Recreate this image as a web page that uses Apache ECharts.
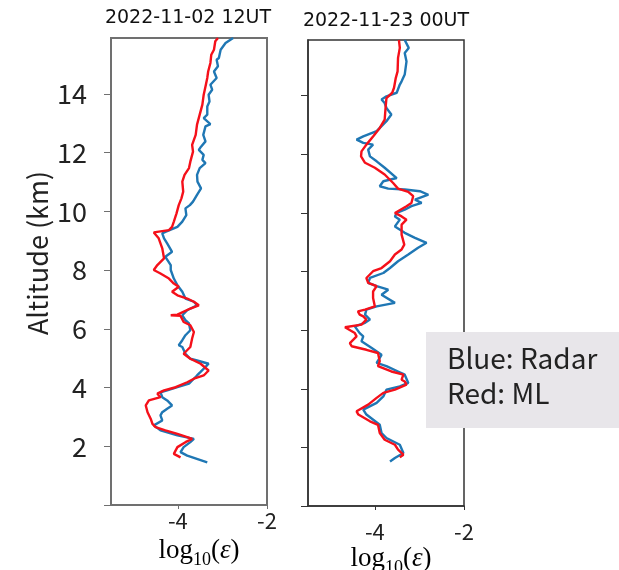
<!DOCTYPE html>
<html><head><meta charset="utf-8">
<script src="https://cdn.jsdelivr.net/npm/echarts@6/dist/echarts.min.js"></script>
<style>html,body{margin:0;padding:0;background:#fff}#c{width:619px;height:570px}</style>
</head><body><div id="c"></div>
<script>
const panelTitles = ['2022-11-02 12UT', '2022-11-23 00UT'];
const yTicks = [0, 2, 4, 6, 8, 10, 12, 14];
const yLabels = [2, 4, 6, 8, 10, 12, 14];
const xTicks = [-4, -2];
const legendLines = ['Blue: Radar', 'Red: ML'];

// Left panel (2022-11-02 12UT)
const altL_radar = [15.9,15.73,15.5,15.22,15.16,14.94,14.76,14.54,14.31,14.14,13.97,13.74,13.57,13.29,13.17,12.97,12.89,12.6,12.38,12.2,12.09,11.92,11.75,11.64,11.47,11.24,11.01,10.78,10.56,10.33,10.21,10.1,9.87,9.65,9.47,9.3,9.25,9.08,8.91,8.62,8.45,8.17,8.0,7.71,7.48,7.26,7.03,6.92,6.8,6.63,6.46,6.29,6.18,5.95,5.78,5.61,5.44,5.38,5.15,4.98,4.92,4.81,4.53,4.41,4.24,4.13,4.01,3.9,3.84,3.67,3.56,3.39,3.28,3.16,3.05,2.88,2.71,2.65,2.54,2.37,2.25,2.14,1.97,1.8,1.68,1.45];
const epsL_radar = [-2.76,-2.93,-3.04,-3.08,-3.13,-3.10,-3.19,-3.13,-3.27,-3.23,-3.31,-3.29,-3.34,-3.34,-3.42,-3.27,-3.38,-3.43,-3.38,-3.48,-3.53,-3.42,-3.45,-3.38,-3.51,-3.57,-3.56,-3.48,-3.57,-3.66,-3.73,-3.83,-3.81,-3.90,-4.01,-4.28,-4.35,-4.31,-4.24,-4.13,-4.28,-4.16,-4.16,-4.09,-4.01,-3.90,-3.83,-3.64,-3.57,-3.79,-3.90,-3.83,-3.75,-3.72,-3.83,-3.90,-3.98,-3.90,-3.83,-3.72,-3.57,-3.31,-3.49,-3.57,-3.68,-3.75,-4.01,-4.24,-4.39,-4.35,-4.24,-4.13,-4.24,-4.35,-4.39,-4.35,-4.54,-4.57,-4.39,-4.01,-3.64,-3.72,-3.87,-3.94,-3.79,-3.34];
const altL_ml = [15.9,15.79,15.5,15.33,15.05,14.76,14.54,14.25,13.97,13.63,13.29,12.95,12.6,12.26,12.03,11.69,11.47,11.24,11.01,10.67,10.44,10.21,9.93,9.65,9.47,9.36,9.28,9.08,8.74,8.4,8.17,8.0,7.88,7.71,7.54,7.43,7.26,7.14,7.03,6.92,6.8,6.69,6.48,6.46,6.44,6.23,6.12,5.89,5.67,5.38,5.15,4.98,4.81,4.58,4.41,4.3,4.18,4.01,3.9,3.79,3.67,3.56,3.39,3.16,2.94,2.76,2.65,2.54,2.42,2.31,2.25,2.14,1.97,1.74,1.62];
const epsL_ml = [-3.10,-3.16,-3.19,-3.25,-3.27,-3.32,-3.34,-3.38,-3.42,-3.45,-3.51,-3.57,-3.60,-3.68,-3.66,-3.72,-3.75,-3.85,-3.90,-3.88,-3.92,-3.98,-4.03,-4.09,-4.13,-4.20,-4.54,-4.43,-4.35,-4.31,-4.46,-4.54,-4.39,-4.20,-4.09,-3.98,-4.13,-4.01,-3.79,-3.64,-3.53,-3.72,-4.01,-4.16,-3.94,-3.87,-3.72,-3.64,-3.68,-3.72,-3.87,-3.72,-3.49,-3.31,-3.42,-3.64,-3.79,-4.05,-4.31,-4.46,-4.39,-4.65,-4.72,-4.68,-4.61,-4.57,-4.50,-4.28,-4.01,-3.79,-3.68,-3.83,-4.01,-4.09,-3.94];

// Right panel (2022-11-23 00UT)
const altR_radar = [15.9,15.63,15.46,15.17,14.72,14.49,14.38,14.1,13.98,13.87,13.75,13.58,13.36,13.13,12.79,12.61,12.5,12.39,12.33,12.16,11.93,11.76,11.54,11.19,11.08,10.91,10.83,10.8,10.74,10.62,10.45,10.34,10.23,10.11,10.0,9.88,9.77,9.54,9.48,9.32,9.15,8.98,8.81,8.58,8.35,8.12,7.95,7.78,7.61,7.5,7.38,7.21,6.93,6.81,6.7,6.53,6.36,6.25,6.13,5.9,5.79,5.62,5.39,5.16,4.88,4.77,4.59,4.48,4.2,4.08,3.97,3.74,3.52,3.29,3.12,2.77,2.49,2.32,2.09,1.81,1.64,1.52];
const epsR_radar = [-3.33,-3.24,-3.33,-3.29,-3.33,-3.40,-3.44,-3.51,-3.74,-3.85,-3.78,-3.74,-3.63,-3.74,-3.96,-4.26,-4.41,-4.26,-4.04,-4.15,-4.11,-3.96,-3.78,-3.51,-3.81,-3.89,-3.70,-3.33,-2.99,-2.80,-3.10,-2.95,-3.18,-3.33,-3.51,-3.55,-3.44,-3.55,-3.51,-3.33,-3.10,-2.84,-3.03,-3.25,-3.48,-3.66,-3.81,-4.11,-4.15,-3.96,-3.70,-3.85,-3.55,-3.96,-4.19,-4.22,-4.11,-4.22,-4.45,-4.34,-4.26,-4.30,-4.07,-3.85,-3.96,-3.74,-3.48,-3.33,-3.25,-3.44,-3.74,-3.81,-3.96,-4.26,-4.19,-3.89,-3.85,-3.74,-3.44,-3.36,-3.55,-3.66];
const altR_ml = [15.9,15.63,15.29,14.83,14.61,14.27,14.1,13.92,13.58,13.18,12.9,12.61,12.33,12.1,11.93,11.71,11.54,11.31,11.02,10.83,10.72,10.57,10.34,10.23,10.0,9.88,9.77,9.6,9.26,8.92,8.75,8.58,8.35,8.12,8.01,7.78,7.61,7.5,7.32,7.1,6.81,6.7,6.64,6.53,6.47,6.36,6.19,6.1,5.9,5.79,5.56,5.45,5.33,5.22,4.94,4.77,4.59,4.48,4.31,4.25,4.14,3.97,3.86,3.69,3.46,3.23,3.12,2.89,2.77,2.49,2.26,2.09,1.92,1.75,1.66];
const epsR_ml = [-3.46,-3.44,-3.48,-3.49,-3.53,-3.57,-3.61,-3.74,-3.76,-3.78,-3.89,-4.04,-4.19,-4.30,-4.31,-4.22,-4.00,-3.78,-3.59,-3.48,-3.25,-3.14,-3.18,-3.29,-3.55,-3.40,-3.29,-3.40,-3.40,-3.34,-3.40,-3.55,-3.66,-3.85,-4.04,-4.19,-4.15,-3.96,-4.04,-4.04,-4.00,-4.22,-4.38,-4.34,-4.26,-4.19,-4.30,-4.67,-4.45,-4.41,-4.56,-4.52,-4.19,-3.93,-3.89,-3.93,-3.63,-3.36,-3.40,-3.33,-3.29,-3.55,-3.81,-3.96,-4.15,-4.41,-4.37,-4.11,-3.93,-3.89,-3.78,-3.55,-3.48,-3.36,-3.44];

function pairs(xs, ys) { return xs.map((x, i) => [x, ys[i]]); }

const BLUE = '#1f77b4', RED = '#f5101a';
const LABEL_FONT = '"Noto Sans CJK JP", "Noto Sans", sans-serif';

function xAx(idx, frameColor, margin) {
  return {
    type: 'value', gridIndex: idx, min: -5.5, max: -2,
    axisLine: { show: true, lineStyle: { color: frameColor, width: idx === 0 ? 2 : 1.5 } },
    axisTick: { show: true, length: 4, customValues: xTicks, lineStyle: { color: frameColor } },
    axisLabel: { customValues: xTicks, fontSize: 22, color: '#222', fontFamily: LABEL_FONT, margin: margin },
    splitLine: { show: false }
  };
}
function yAx(idx, frameColor, showLabels) {
  return {
    type: 'value', gridIndex: idx, min: 0, max: 15.9,
    axisLine: { show: true, lineStyle: { color: frameColor, width: idx === 0 ? 2 : 1.5 } },
    axisTick: { show: true, length: 7, customValues: yTicks, lineStyle: { color: frameColor } },
    axisLabel: { show: showLabels, customValues: yLabels, fontSize: 27, color: '#222', fontFamily: LABEL_FONT, margin: 24 },
    splitLine: { show: false }
  };
}

function lineSeries(idx, data, color, z) {
  return {
    type: 'line', xAxisIndex: idx, yAxisIndex: idx, data: data,
    showSymbol: false, symbol: 'none', smooth: false, z: z,
    lineStyle: { color: color, width: 2.4 }, itemStyle: { color: color },
    animation: false
  };
}

const SERIF = '"Liberation Serif", "DejaVu Serif", serif';
const logRich = {
  a: { fontFamily: SERIF, fontSize: 27, color: '#111', lineHeight: 36 },
  s: { fontFamily: SERIF, fontSize: 18, color: '#111', verticalAlign: 'bottom', lineHeight: 18 },
  e: { fontFamily: SERIF, fontSize: 27, fontStyle: 'italic', color: '#111', lineHeight: 36 }
};
const logText = '{a|log}{s|10}{a|(}{e|ε}{a|)}';

const chart = echarts.init(document.getElementById('c'), null, { renderer: 'canvas' });
chart.setOption({
  animation: false,
  backgroundColor: '#fff',
  grid: [
    { left: 111, top: 38, width: 156, height: 467, show: true, borderColor: '#707070', borderWidth: 2, backgroundColor: 'transparent' },
    { left: 308, top: 40, width: 156, height: 466, show: true, borderColor: '#333', borderWidth: 1.5, backgroundColor: 'transparent' }
  ],
  xAxis: [xAx(0, '#707070', 5), xAx(1, '#333', 15)],
  yAxis: [yAx(0, '#707070', true), yAx(1, '#333', false)],
  series: [
    lineSeries(0, pairs(epsL_radar, altL_radar), BLUE, 2),
    lineSeries(0, pairs(epsL_ml, altL_ml), RED, 3),
    lineSeries(1, pairs(epsR_radar, altR_radar), BLUE, 2),
    lineSeries(1, pairs(epsR_ml, altR_ml), RED, 3)
  ],
  graphic: [
    { type: 'text', x: 188, y: 18, z: 10, style: { text: panelTitles[0], fill: '#111', font: '19px "DejaVu Sans"', align: 'center', verticalAlign: 'middle' } },
    { type: 'text', x: 386, y: 21, z: 10, style: { text: panelTitles[1], fill: '#111', font: '19px "DejaVu Sans"', align: 'center', verticalAlign: 'middle' } },
    { type: 'text', x: 38, y: 253, rotation: Math.PI / 2, z: 10, style: { text: 'Altitude (km)', fill: '#222', font: '27px "Noto Sans CJK JP"', align: 'center', verticalAlign: 'middle' } },
    { type: 'text', x: 199, y: 551, z: 10, style: { text: logText, rich: logRich, align: 'center', verticalAlign: 'middle' } },
    { type: 'text', x: 391, y: 559, z: 10, style: { text: logText, rich: logRich, align: 'center', verticalAlign: 'middle' } },
    { type: 'rect', z: 20, shape: { x: 426, y: 332, width: 200, height: 96 }, style: { fill: '#e8e6ea' } },
    { type: 'text', x: 447, y: 358, z: 21, style: { text: legendLines[0], fill: '#222', font: '28px "Noto Sans CJK JP"', align: 'left', verticalAlign: 'middle' } },
    { type: 'text', x: 447, y: 393, z: 21, style: { text: legendLines[1], fill: '#222', font: '28px "Noto Sans CJK JP"', align: 'left', verticalAlign: 'middle' } }
  ]
});
</script>
</body></html>
